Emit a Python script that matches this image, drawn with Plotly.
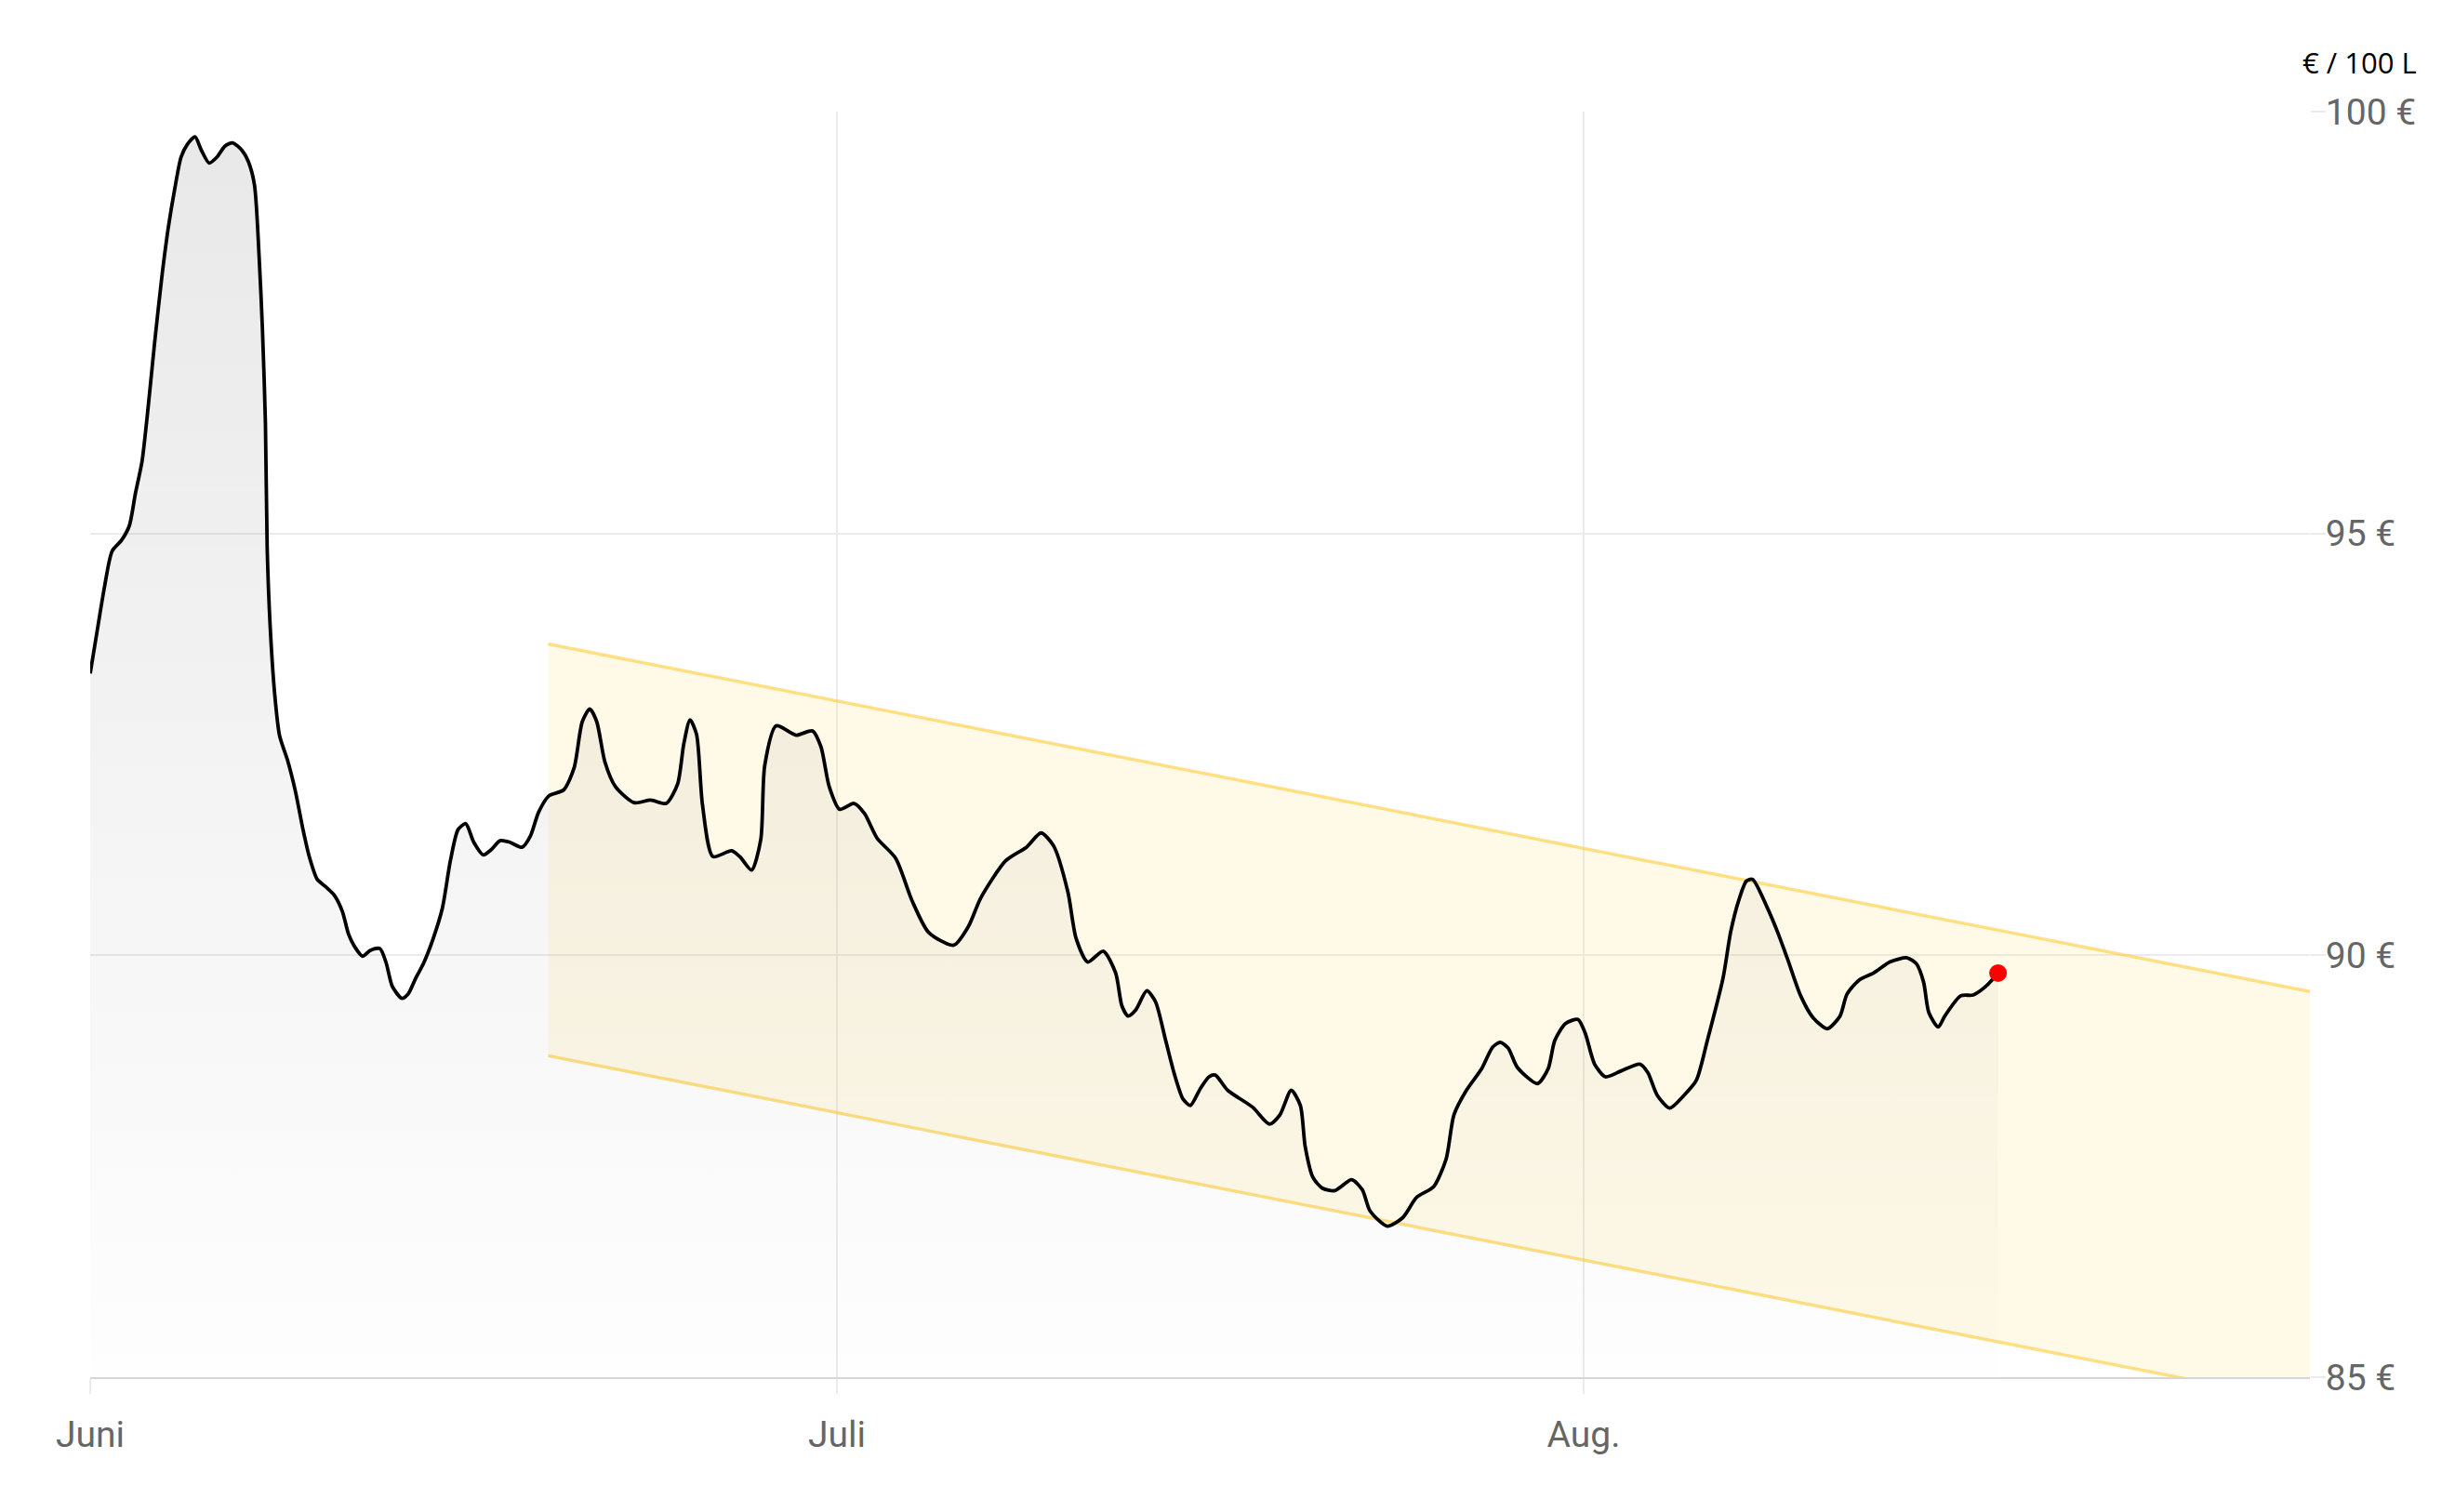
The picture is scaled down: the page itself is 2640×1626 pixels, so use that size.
import plotly.graph_objects as go

# Day offsets from 1 June (month ticks evenly spaced)
days = [0, 0.31, 0.57, 0.88, 1.26, 1.57, 1.82, 2.08, 2.33, 2.58, 2.89, 3.14, 3.40, 3.65, 3.90,
        4.21, 4.47, 4.78, 5.09, 5.41, 5.72, 6.10, 6.35, 6.60, 6.79, 6.92, 7.04, 7.11, 7.23, 7.42,
        7.61, 7.92, 8.24, 8.55, 8.81, 9.12, 9.43, 9.81, 10.13, 10.38, 10.63, 10.94, 11.26, 11.64,
        11.89, 12.14, 12.52, 12.77, 13.08, 13.40, 13.77, 14.15, 14.47, 14.78, 15.09, 15.41, 15.79,
        16.10, 16.48, 16.86, 17.35, 17.68, 18.02, 18.43, 19.02, 19.44, 19.77, 20.07, 20.35, 20.68,
        21.10, 21.85, 22.52, 23.14, 23.60, 23.85, 24.10, 24.36, 24.60, 25.02, 25.77, 26.10, 26.57,
        26.94, 27.10, 27.56, 28.36, 29.02, 29.36, 29.69, 30.11, 30.69, 31.11, 31.61, 32.36, 33.03,
        33.69, 34.69, 35.28, 35.78, 36.78, 37.61, 38.20, 38.70, 39.28, 39.61, 40.08, 40.70, 41.20,
        41.45, 41.70, 42.00, 42.45, 42.80, 43.20, 43.55, 43.90, 44.20, 44.60, 44.95, 45.20, 45.70,
        46.70, 47.38, 47.80, 48.25, 48.62, 48.81, 49.12, 49.50, 50.00, 50.68, 51.11, 51.42, 52.11,
        52.73, 53.29, 53.98, 54.48, 54.79, 55.29, 55.91, 56.34, 56.65, 56.97, 57.34, 58.15, 58.58,
        58.84, 59.27, 59.77, 60.06, 60.44, 60.88, 61.51, 62.26, 62.58, 62.96, 63.46, 64.03, 64.53,
        64.97, 65.60, 65.91, 66.23, 66.54, 66.79, 67.37, 67.80, 68.20, 68.72, 69.22, 69.79, 70.30,
        70.58, 71.08, 71.65, 72.30, 73.00, 73.37, 73.66, 73.87, 74.25, 74.51, 75.15, 75.65, 76.15,
        76.65]
prices = [93.34, 93.90, 94.36, 94.79, 94.92, 95.09, 95.48, 95.85, 96.50, 97.24, 98.07, 98.63, 99.09,
          99.46, 99.61, 99.70, 99.54, 99.39, 99.46, 99.59, 99.63, 99.54, 99.41, 99.13, 98.26, 97.42,
          96.31, 94.83, 93.90, 93.07, 92.60, 92.32, 91.95, 91.49, 91.16, 90.90, 90.82, 90.71, 90.52,
          90.25, 90.10, 89.99, 90.06, 90.08, 89.91, 89.63, 89.49, 89.54, 89.73, 89.91, 90.19, 90.56,
          91.12, 91.49, 91.56, 91.34, 91.19, 91.25, 91.36, 91.34, 91.28, 91.41, 91.70, 91.89, 91.96,
          92.22, 92.77, 92.92, 92.77, 92.29, 92.00, 91.81, 91.84, 91.80, 92.03, 92.51, 92.79, 92.62,
          91.78, 91.17, 91.24, 91.17, 91.01, 91.37, 92.25, 92.72, 92.61, 92.66, 92.47, 92.00, 91.73,
          91.80, 91.68, 91.39, 91.15, 90.64, 90.27, 90.12, 90.34, 90.68, 91.12, 91.28, 91.45, 91.30,
          90.75, 90.20, 89.92, 90.05, 89.79, 89.40, 89.28, 89.35, 89.58, 89.45, 89.00, 88.60, 88.30,
          88.22, 88.42, 88.56, 88.58, 88.40, 88.20, 88.00, 88.11, 88.40, 88.22, 87.74, 87.37, 87.24,
          87.21, 87.34, 87.22, 86.97, 86.79, 86.89, 87.13, 87.26, 87.59, 88.11, 88.40, 88.66, 88.91,
          88.97, 88.90, 88.67, 88.48, 88.66, 88.99, 89.19, 89.24, 89.08, 88.71, 88.56, 88.63, 88.71,
          88.61, 88.34, 88.19, 88.34, 88.52, 88.99, 89.73, 90.28, 90.65, 90.88, 90.90, 90.57, 90.27,
          89.95, 89.52, 89.26, 89.13, 89.28, 89.54, 89.71, 89.79, 89.92, 89.97, 89.90, 89.68, 89.32,
          89.15, 89.28, 89.52, 89.53, 89.63, 89.79]

# Trend channel (start / end of band)
band_days = [18.4, 89.18]
band_upper = [93.69, 89.57]
band_lower = [88.81, 84.69]

x_tickvals = [0, 30, 60]
x_ticktext = ["Juni", "Juli", "Aug."]
y_tickvals = [85, 90, 95, 100]
y_ticktext = ["85 €", "90 €", "95 €", "100 €"]
x_range = [0, 89.18]
y_range = [85, 100]

GRID = "#ebebef"
TICKFONT = dict(family="Roboto, Arial, sans-serif", size=39, color="#666666")

fig = go.Figure()

# channel
fig.add_trace(go.Scatter(x=band_days, y=band_lower, mode="lines",
                         line=dict(color="rgba(255,205,60,0.62)", width=3.4),
                         hoverinfo="skip", showlegend=False))
fig.add_trace(go.Scatter(x=band_days, y=band_upper, mode="lines", fill="tonexty",
                         fillcolor="rgba(255,210,50,0.11)",
                         line=dict(color="rgba(255,205,60,0.62)", width=3.4),
                         hoverinfo="skip", showlegend=False))

# price area + line
fig.add_trace(go.Scatter(
    x=days, y=prices, mode="lines", fill="tozeroy",
    fillgradient=dict(type="vertical", start=85, stop=100,
                      colorscale=[[0, "rgba(0,0,0,0.005)"], [1, "rgba(0,0,0,0.09)"]]),
    line=dict(color="#000000", width=3.8, shape="spline", smoothing=0.7),
    hoverinfo="skip", showlegend=False))

# last value marker
fig.add_trace(go.Scatter(x=[days[-1]], y=[prices[-1]], mode="markers",
                         marker=dict(color="#ff0000", size=19),
                         hoverinfo="skip", showlegend=False))

fig.update_layout(
    width=2640, height=1626,
    margin=dict(l=89, r=164, t=112, b=153),
    paper_bgcolor="white", plot_bgcolor="white",
    font=dict(family="Roboto, Arial, sans-serif"),
    xaxis=dict(range=x_range, tickvals=x_tickvals, ticktext=x_ticktext,
               showgrid=True, gridcolor=GRID, gridwidth=2, zeroline=False,
               ticks="outside", ticklen=16, tickcolor=GRID, tickwidth=2,
               showline=True, linecolor="#d6d6da", linewidth=2,
               tickfont=TICKFONT, ticklabelstandoff=10),
    yaxis=dict(range=y_range, tickvals=y_tickvals, ticktext=y_ticktext, side="right",
               showgrid=True, gridcolor=GRID, gridwidth=2, zeroline=False,
               ticks="outside", ticklen=16, tickcolor=GRID, tickwidth=2,
               showline=False, tickfont=TICKFONT, ticklabelstandoff=-8),
    annotations=[dict(text="€ / 100 L", xref="paper", yref="paper",
                      x=1.049, y=1.039, xanchor="right", yanchor="middle",
                      showarrow=False,
                      font=dict(family="Open Sans, sans-serif", size=31, color="#000000"))],
)

fig.write_html("out.html")
